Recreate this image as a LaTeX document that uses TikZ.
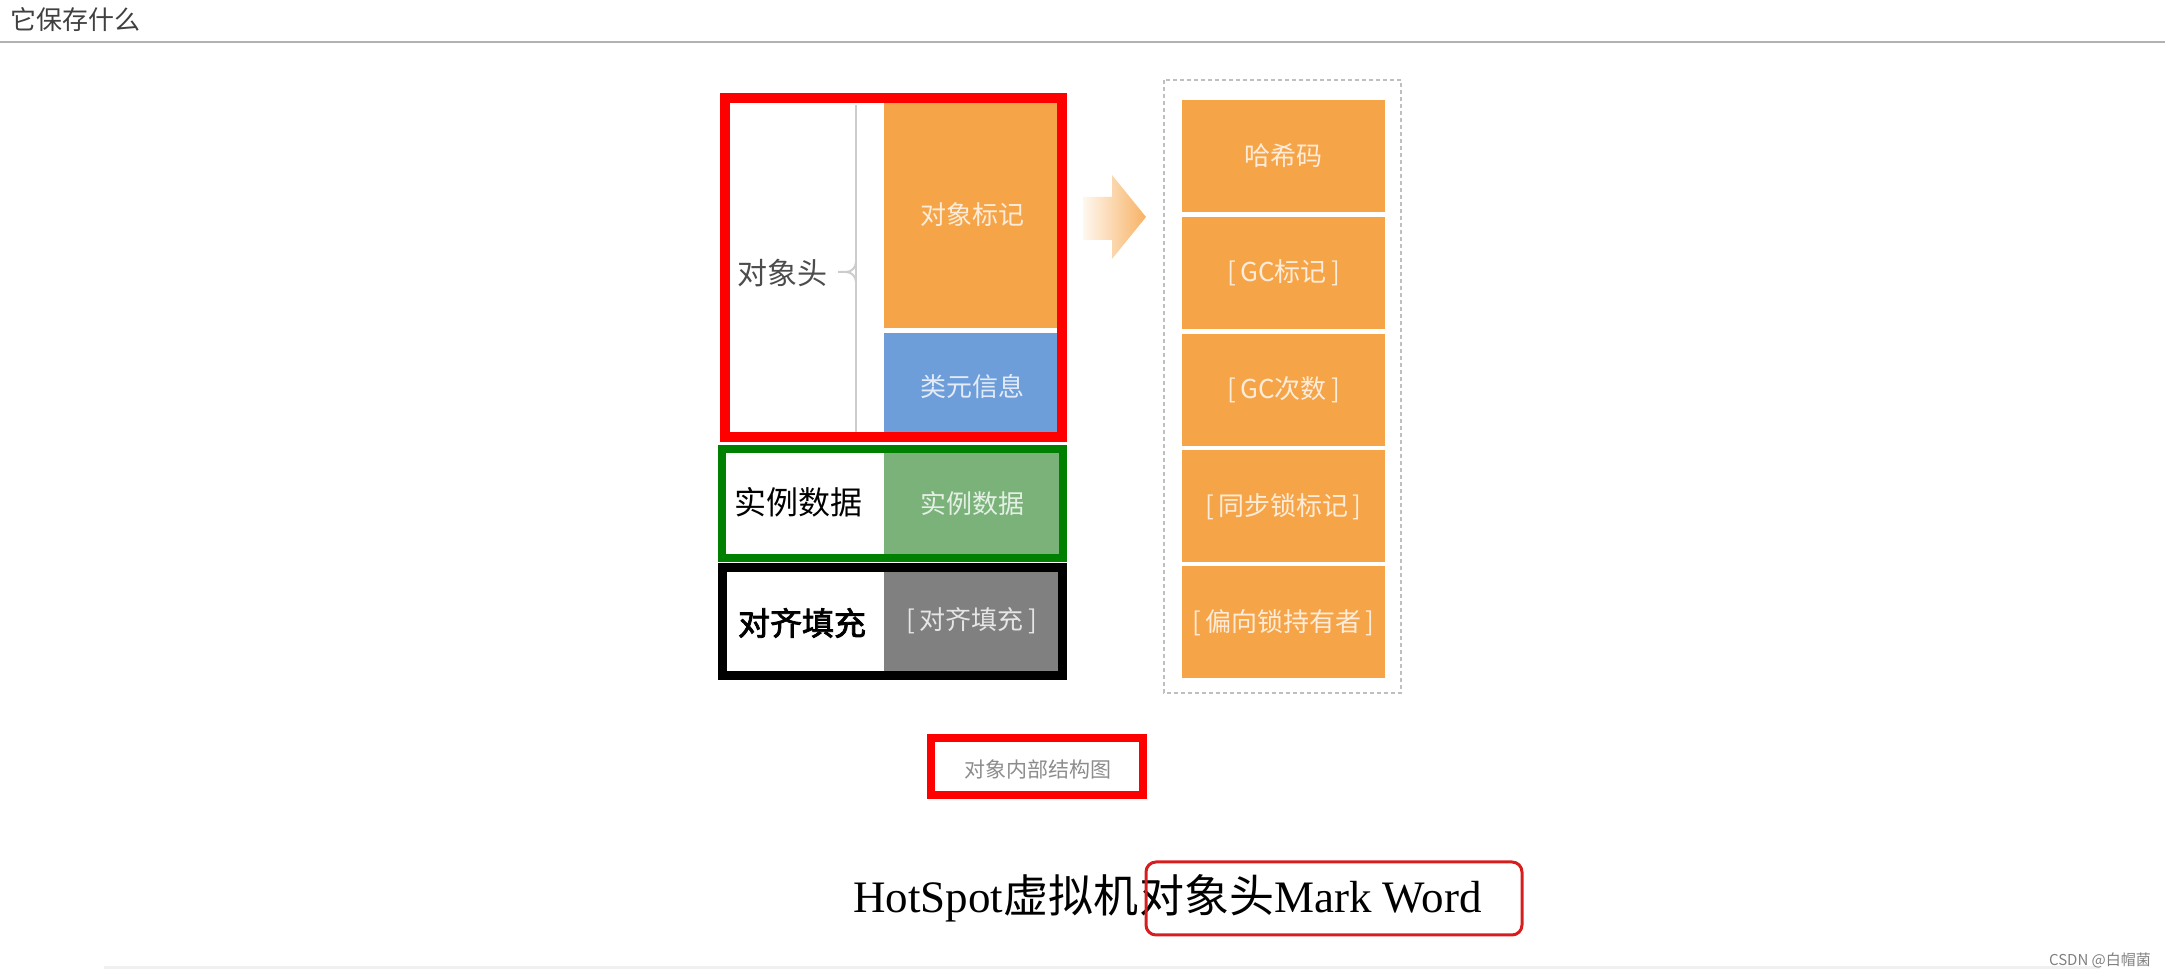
\documentclass[tikz,border=0pt]{standalone}
\usepackage{fontspec}
\setmainfont{Liberation Serif}
\newfontfamily\cjk[AutoFakeBold=2.5]{Noto Sans CJK SC}
\definecolor{mkorange}{RGB}{246,164,72}
\definecolor{mkblue}{RGB}{110,158,218}
\definecolor{mkgreen}{RGB}{122,178,122}
\definecolor{mkgrey}{RGB}{128,128,128}
\definecolor{mkred}{RGB}{215,30,30}
\begin{document}
\begin{tikzpicture}[x=0.5pt, y=-0.5pt,
  cell/.style={inner sep=0pt, minimum width=88pt, text=white, text opacity=.8, font=\cjk\fontsize{13}{15}\selectfont},
  word cell/.style={cell, fill=mkorange, minimum width=101.5pt, minimum height=56pt},
  side label/.style={inner sep=0pt, font=\cjk\fontsize{16}{18}\selectfont},
  brace/.style={draw=black!20, line width=1pt},
  markbox/.style={draw=mkred, line width=1.5pt, rounded corners=5pt}]
\useasboundingbox (0,0) rectangle (2165,977);
% title
\node[anchor=west, inner sep=0pt, text=black!75, font=\cjk\fontsize{13}{15}\selectfont] (title) at (10,20) {它保存什么};
\draw[black!30, line width=1pt] (0,42) -- (2165,42);
% left column
\begin{scope}
\node[cell, fill=mkorange, minimum height=113pt] (mark) at (972,215) {对象标记};
\node[cell, fill=mkblue, minimum height=53.5pt] (klass) at (972,386.5) {类元信息};
\node[cell, fill=mkgreen, minimum height=54.5pt] (data) at (972,503.5) {实例数据};
\node[cell, fill=mkgrey, minimum height=55pt] (pad) at (972,621) {[\,对齐填充\,]};
\end{scope}
\draw[brace] (856,105) -- (856,438);
\draw[brace] (838,272) -- (846,272) to[out=0, in=-90] (856,262);
\draw[brace] (846,272) to[out=0, in=90] (856,282);
\begin{scope}[every node/.style={side label}]
\node[text=black!70, font=\cjk\fontsize{15}{17}\selectfont] (head) at (782,273) {对象头};
\node (inst) at (798,502) {实例数据};
\node[font=\cjk\bfseries\fontsize{16}{18}\selectfont] (align) at (802,623) {对齐填充};
\end{scope}
\draw[red, line width=5pt] (725,98) rectangle (1062,437);
\draw[black!50!green, line width=4pt] (722,449) rectangle (1063,558);
\draw[black, line width=4.5pt] (722.5,567.5) rectangle (1062.5,675.5);
% arrow
\shade[left color=mkorange!8, right color=mkorange!85] (1083,197) -- (1112,197) -- (1112,175) -- (1146,217) -- (1112,259) -- (1112,240) -- (1083,240) -- cycle;
% mark word
\draw[black!25, line width=1pt, dash pattern=on 2pt off 1.5pt] (1164,80) rectangle (1401,693);
\begin{scope}[every node/.style={word cell}]
\node (w1) at (1283.5,156) {哈希码};
\node (w2) at (1283.5,273) {[\,GC标记\,]};
\node (w3) at (1283.5,390) {[\,GC次数\,]};
\node (w4) at (1283.5,506.5) {[\,同步锁标记\,]};
\node (w5) at (1283.5,622.5) {[\,偏向锁持有者\,]};
\end{scope}
% caption
\draw[red, line width=4pt] (931,738) rectangle (1143,795);
\node[inner sep=0pt, text=black!45, font=\cjk\fontsize{10.5}{12}\selectfont] (cap) at (1038,770) {对象内部结构图};
% bottom line
\node[anchor=base west, inner sep=0pt, font=\fontsize{22.5}{26}\selectfont] (hs) at (853,913) {HotSpot{\cjk 虚拟机}};
\node[anchor=base west, inner sep=0pt, font=\fontsize{22.5}{26}\selectfont] (mw) at (hs.base east) {{\cjk 对象头}Mark Word};
\draw[markbox] (1146,862) rectangle (1522,935);
\draw[black!6, line width=1.5pt] (104,968) -- (2100,968);
\node[inner sep=0pt, text=black!50, font=\cjk\fontsize{7.5}{9}\selectfont] (csdn) at (2100,960) {CSDN @白帽菌};
\end{tikzpicture}
\end{document}
